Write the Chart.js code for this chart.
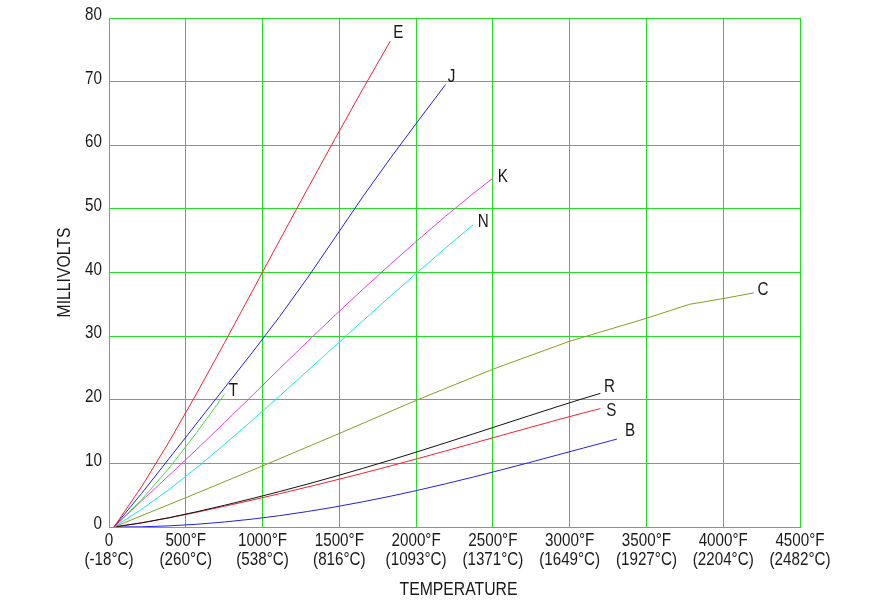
<!DOCTYPE html>
<html>
<head>
<meta charset="utf-8">
<script src="https://cdn.jsdelivr.net/npm/chart.js@4.4.1/dist/chart.umd.min.js"></script>
<style>
  html, body { margin: 0; padding: 0; background: #ffffff; }
  #wrap { width: 893px; height: 605px; }
</style>
</head>
<body>
<div id="wrap"><canvas id="c" width="893" height="605"></canvas></div>
<script>
// ---- Data (temperature in °F, EMF in millivolts) ----
const xTickValuesF = [0, 500, 1000, 1500, 2000, 2500, 3000, 3500, 4000, 4500];
const xTickLabelsF = ["0", "500°F", "1000°F", "1500°F", "2000°F", "2500°F", "3000°F", "3500°F", "4000°F", "4500°F"];
const xTickLabelsC = ["(-18°C)", "(260°C)", "(538°C)", "(816°C)", "(1093°C)", "(1371°C)", "(1649°C)", "(1927°C)", "(2204°C)", "(2482°C)"];
const yTickValues = [0, 10, 20, 30, 40, 50, 60, 70, 80];
const xTitle = "TEMPERATURE";
const yTitle = "MILLIVOLTS";

const seriesNames = ["E", "J", "K", "N", "T", "C", "R", "S", "B"];

const tempE = [32, 212, 392, 572, 752, 932, 1112, 1292, 1472, 1652, 1832];
const mvE   = [0, 6.32, 13.42, 21.04, 28.95, 37.00, 45.09, 53.11, 61.02, 68.79, 76.37];

const tempJ = [32, 212, 392, 572, 752, 932, 1112, 1292, 1472, 1652, 1832, 2012, 2192];
const mvJ   = [0, 5.27, 10.78, 16.33, 21.85, 27.39, 33.10, 39.13, 45.49, 51.88, 57.95, 63.79, 69.55];

const tempK = [32, 212, 392, 572, 752, 932, 1112, 1292, 1472, 1652, 1832, 2012, 2192, 2372, 2500];
const mvK   = [0, 4.10, 8.14, 12.21, 16.40, 20.64, 24.91, 29.13, 33.28, 37.33, 41.28, 45.12, 48.84, 52.41, 54.82];

const tempN = [32, 212, 392, 572, 752, 932, 1112, 1292, 1472, 1652, 1832, 2012, 2192, 2372];
const mvN   = [0, 2.77, 5.91, 9.34, 12.97, 16.75, 20.61, 24.53, 28.46, 32.37, 36.26, 40.09, 43.85, 47.51];

const tempT = [32, 212, 392, 572, 752];
const mvT   = [0, 4.28, 9.29, 14.86, 20.87];

const tempC = [32, 500, 1000, 1500, 2000, 2500, 3000, 3500, 3780, 4000, 4200];
const mvC   = [0, 4.6, 9.6, 14.7, 19.9, 24.8, 29.2, 32.8, 35.0, 35.9, 36.8];

const tempR = [32, 212, 392, 572, 752, 932, 1112, 1292, 1472, 1652, 1832, 2012, 2192, 2372, 2552, 2732, 2912, 3092, 3200];
const mvR   = [0, 0.65, 1.47, 2.40, 3.41, 4.47, 5.58, 6.74, 7.95, 9.21, 10.51, 11.85, 13.23, 14.63, 16.04, 17.45, 18.85, 20.22, 21.00];

const tempS = [32, 212, 392, 572, 752, 932, 1112, 1292, 1472, 1652, 1832, 2012, 2192, 2372, 2552, 2732, 2912, 3092, 3200];
const mvS   = [0, 0.65, 1.44, 2.32, 3.26, 4.23, 5.24, 6.28, 7.35, 8.45, 9.59, 10.76, 11.95, 13.16, 14.37, 15.58, 16.78, 17.95, 18.61];

const tempB = [32, 212, 392, 572, 752, 932, 1112, 1292, 1472, 1652, 1832, 2012, 2192, 2372, 2552, 2732, 2912, 3092, 3272, 3308];
const mvB   = [0, 0.03, 0.18, 0.43, 0.79, 1.24, 1.79, 2.43, 3.15, 3.96, 4.83, 5.78, 6.79, 7.85, 8.96, 10.10, 11.26, 12.43, 13.59, 13.82];

// ---- Styles ----
const GRID = '#22dd22';
const TEXT = '#1a1a1a';
const FONT = '"Liberation Sans", Arial, sans-serif';
const FONT_SIZE = 19;
const SX = 0.8;       // horizontal condensing of the CAD-like lettering
const SX_TITLE = 0.83;

const styles = {
  E: { color: '#ee2233', dx: 8,  dy: -8 },
  J: { color: '#2222dd', dx: 6,  dy: -8 },
  K: { color: '#e040e0', dx: 10, dy: -1 },
  N: { color: '#22e0e0', dx: 10, dy: -3 },
  T: { color: '#44dd44', dx: 9,  dy: -3 },
  C: { color: '#8c9c22', dx: 9,  dy: -3 },
  R: { color: '#111111', dx: 9,  dy: -7 },
  S: { color: '#ee2233', dx: 11, dy: 2 },
  B: { color: '#2222dd', dx: 13, dy: -8 }
};

const seriesTemps = { E: tempE, J: tempJ, K: tempK, N: tempN, T: tempT, C: tempC, R: tempR, S: tempS, B: tempB };
const seriesMv    = { E: mvE, J: mvJ, K: mvK, N: mvN, T: mvT, C: mvC, R: mvR, S: mvS, B: mvB };

const datasets = seriesNames.map(name => ({
  label: name,
  data: seriesTemps[name].map((t, i) => ({ x: t, y: seriesMv[name][i] })),
  borderColor: styles[name].color,
  backgroundColor: styles[name].color,
  borderWidth: 1,
  pointRadius: 0,
  tension: 0,
  fill: false
}));

function drawText(ctx, text, x, y, align, sx, rot) {
  ctx.save();
  ctx.translate(x, y);
  if (rot) ctx.rotate(rot);
  ctx.scale(sx, 1);
  ctx.textAlign = align;
  ctx.textBaseline = 'middle';
  ctx.fillText(text, 0, 0);
  ctx.restore();
}

const cadText = {
  id: 'cadText',
  afterDraw(chart) {
    const ctx = chart.ctx;
    const area = chart.chartArea;
    const xs = chart.scales.x, ys = chart.scales.y;
    ctx.save();
    ctx.font = FONT_SIZE + 'px ' + FONT;
    ctx.fillStyle = TEXT;
    // x tick labels (two lines)
    xs.ticks.forEach(t => {
      const i = xTickValuesF.indexOf(t.value);
      if (i < 0) return;
      const px = xs.getPixelForValue(t.value);
      drawText(ctx, xTickLabelsF[i], px, area.bottom + 14, 'center', SX);
      drawText(ctx, xTickLabelsC[i], px, area.bottom + 33, 'center', SX);
    });
    // y tick labels
    ys.ticks.forEach(t => {
      const py = ys.getPixelForValue(t.value);
      drawText(ctx, String(t.value), area.left - 7, py - 3, 'right', SX);
    });
    // axis titles
    drawText(ctx, xTitle, (area.left + area.right) / 2 + 4, area.bottom + 63, 'center', SX_TITLE);
    drawText(ctx, yTitle, 65, (area.top + area.bottom) / 2, 'center', SX_TITLE, -Math.PI / 2);
    // curve end labels
    chart.data.datasets.forEach((ds, i) => {
      const meta = chart.getDatasetMeta(i);
      const last = meta.data[meta.data.length - 1];
      const st = styles[ds.label];
      drawText(ctx, ds.label, last.x + st.dx, last.y + st.dy, 'center', SX);
    });
    ctx.restore();
  }
};

new Chart(document.getElementById('c'), {
  type: 'line',
  data: { datasets },
  plugins: [cadText],
  options: {
    responsive: false,
    animation: false,
    devicePixelRatio: 1,
    layout: { padding: { left: 0, right: 93, top: 18, bottom: 0 } },
    plugins: { legend: { display: false }, tooltip: { enabled: false } },
    scales: {
      x: {
        type: 'linear',
        min: xTickValuesF[0],
        max: xTickValuesF[xTickValuesF.length - 1],
        afterBuildTicks(scale) { scale.ticks = xTickValuesF.map(v => ({ value: v })); },
        afterFit(scale) { scale.height = 78; },
        grid: { color: GRID, lineWidth: 1, drawTicks: false },
        border: { color: GRID, width: 1 },
        ticks: { display: false },
        title: { display: false }
      },
      y: {
        type: 'linear',
        min: yTickValues[0],
        max: yTickValues[yTickValues.length - 1],
        afterBuildTicks(scale) { scale.ticks = yTickValues.map(v => ({ value: v })); },
        afterFit(scale) { scale.width = 109; },
        grid: { color: GRID, lineWidth: 1, drawTicks: false },
        border: { color: GRID, width: 1 },
        ticks: { display: false },
        title: { display: false }
      }
    }
  }
});
</script>
</body>
</html>
